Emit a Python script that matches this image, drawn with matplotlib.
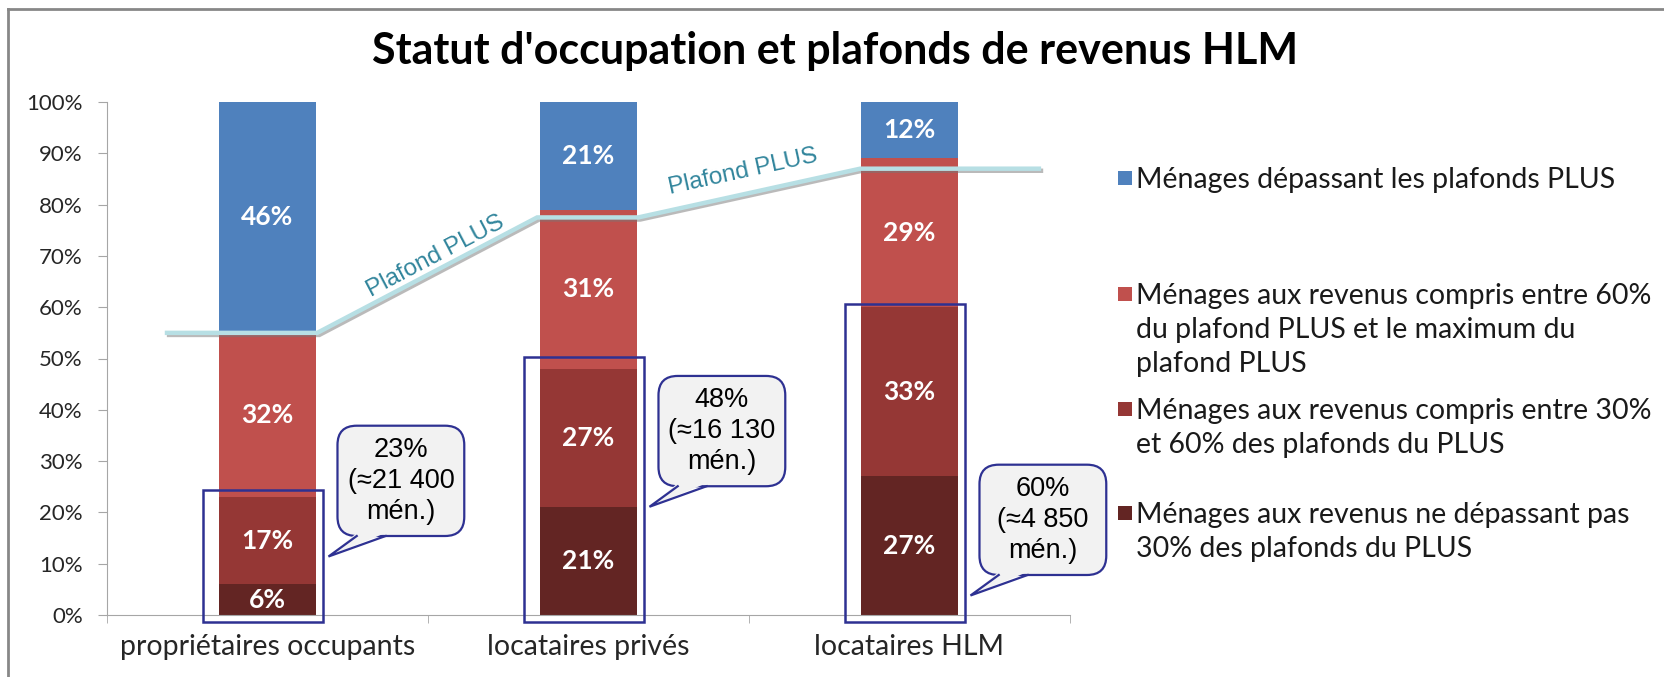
import numpy as np
import matplotlib.pyplot as plt
import matplotlib.patheffects as pe
from matplotlib.patches import Rectangle, FancyBboxPatch, Polygon
from matplotlib.lines import Line2D

plt.rcParams['font.family'] = ['Lato', 'DejaVu Sans']

# Données
categories = ["propriétaires occupants", "locataires privés", "locataires HLM"]
part_moins_30 = [6, 21, 27]      # revenus <= 30% du plafond PLUS
part_30_60 = [17, 27, 33]        # entre 30% et 60%
part_60_max = [32, 31, 29]       # entre 60% et le maximum
part_depasse = [46, 21, 12]      # au-dessus du plafond PLUS

legendes = [
    "Ménages dépassant les plafonds PLUS",
    "Ménages aux revenus compris entre 60%\ndu plafond PLUS et le maximum du\nplafond PLUS",
    "Ménages aux revenus compris entre 30%\net 60% des plafonds du PLUS",
    "Ménages aux revenus ne dépassant pas\n30% des plafonds du PLUS",
]

# ligne "Plafond PLUS"
plafond_x = [-0.32, 0.155, 0.84, 1.155, 1.846, 2.41]
plafond_y = [55, 55, 77.5, 77.5, 87, 87]

# bulles
bulle_textes = ["23%\n(≈21 400\nmén.)", "48%\n(≈16 130\nmén.)", "60%\n(≈4 850\nmén.)"]
bulle_bas = [15.4, 25.1, 7.8]
cadre_haut = [24.4, 50.3, 60.6]

couleurs = ['#632523', '#953735', '#C0504D', '#4F81BD']
bleu_fonce = '#2E3192'

W, H = 1665, 677
fig = plt.figure(figsize=(W / 100, H / 100), dpi=100)
ax = fig.add_axes([107 / W, 62 / H, 963 / W, 513 / H])

x = np.arange(len(categories))
series = [part_moins_30, part_30_60, part_60_max, part_depasse]
bas = np.zeros(len(categories))
for vals, col in zip(series, couleurs):
    vals = np.array(vals, dtype=float)
    ax.bar(x, vals, 0.305, bottom=bas, color=col, zorder=2)
    for xi, b, v in zip(x, bas, vals):
        haut = min(b + v, 100)
        ax.text(xi, (b + haut) / 2, f"{v:.0f}%", ha='center', va='center',
                color='white', fontsize=19, fontweight='bold', zorder=3)
    bas += vals

ax.set_xlim(-0.5, 2.5)
ax.set_ylim(0, 100)

# Ligne plafond
ax.plot(plafond_x, plafond_y, color='#B7DFE4', lw=3.2, zorder=4,
        solid_capstyle='butt', solid_joinstyle='miter', clip_on=False,
        path_effects=[pe.SimpleLineShadow(offset=(1.5, -1.5), shadow_color='#777777', alpha=0.5),
                      pe.Normal()])

def angle(p0, p1):
    a = ax.transData.transform(p0)
    b = ax.transData.transform(p1)
    return np.degrees(np.arctan2(b[1] - a[1], b[0] - a[0]))

ang1 = angle((plafond_x[1], plafond_y[1]), (plafond_x[2], plafond_y[2]))
ang2 = angle((plafond_x[3], plafond_y[3]), (plafond_x[4], plafond_y[4]))
ax.text(0.523, 70, "Plafond PLUS", rotation=ang1, rotation_mode='anchor',
        ha='center', va='center', color='#31859C', fontsize=17.5,
        family=['Liberation Sans'], zorder=4)
ax.text(1.48, 86.3, "Plafond PLUS", rotation=ang2, rotation_mode='anchor',
        ha='center', va='center', color='#31859C', fontsize=17.5,
        family=['Liberation Sans'], zorder=4)

# Cadres autour des ménages éligibles
for xi, h in zip(x, cadre_haut):
    ax.add_patch(Rectangle((xi - 0.2, -1.4), 0.372, h + 1.4, fill=False,
                           ec=bleu_fonce, lw=1.8, zorder=5, clip_on=False))

# Bulles
pos = ax.get_position()
asp = (pos.width * W / 3) / (pos.height * H / 100)
for xi, y0, txt in zip(x, bulle_bas, bulle_textes):
    x0 = xi + 0.218
    larg, haut = 0.395, 21.5
    ax.add_patch(FancyBboxPatch((x0, y0), larg, haut,
                                boxstyle='round,pad=0,rounding_size=0.06',
                                mutation_aspect=asp, fc='#F2F2F2', ec=bleu_fonce,
                                lw=1.6, zorder=6, clip_on=False))
    pointe = (xi + 0.19, y0 - 4)
    b0, b1 = x0 + 0.06, x0 + 0.15
    ax.add_patch(Polygon([(b0, y0 + 0.6), pointe, (b1, y0 + 0.6)], closed=True,
                         fc='#F2F2F2', ec='none', zorder=7, clip_on=False))
    ax.plot([b0, pointe[0], b1], [y0, pointe[1], y0], color=bleu_fonce, lw=1.6,
            zorder=8, clip_on=False, solid_joinstyle='miter')
    ax.text(x0 + larg / 2, y0 + haut / 2, txt, ha='center', va='center',
            fontsize=19.5, family=['Liberation Sans', 'DejaVu Sans'],
            linespacing=1.25, zorder=9)

# Axes
for s in ['top', 'right']:
    ax.spines[s].set_visible(False)
for s in ['left', 'bottom']:
    ax.spines[s].set_color('#A6A6A6')
ax.set_yticks(range(0, 101, 10))
ax.set_yticklabels([f"{v}%" for v in range(0, 101, 10)])
ax.tick_params(axis='y', length=6.5, pad=11, labelsize=16, color='#A6A6A6',
               labelcolor='#262626')
ax.set_xticks(x)
ax.set_xticklabels(categories)
ax.tick_params(axis='x', length=0, pad=14, labelsize=20.5, labelcolor='#262626')
ax.set_xticks([-0.5, 0.5, 1.5, 2.5], minor=True)
ax.tick_params(axis='x', which='minor', length=6, color='#A6A6A6')

# Titre
fig.text(835 / W, 1 - 51 / H, "Statut d'occupation et plafonds de revenus HLM",
         ha='center', va='center', fontsize=31, fontweight='bold')

# Légende (centre de la première ligne de chaque entrée)
leg_couleurs = [couleurs[3], couleurs[2], couleurs[1], couleurs[0]]
leg_centres = [179, 295, 410, 514]
for lab, col, c in zip(legendes, leg_couleurs, leg_centres):
    fig.add_artist(Rectangle((1118 / W, 1 - (c + 6) / H), 14 / W, 14 / H,
                             transform=fig.transFigure, fc=col, ec='none'))
    fig.text(1136 / W, 1 - (c - 12) / H, lab, ha='left', va='top', fontsize=20.5,
             linespacing=1.38, color='#1a1a1a')

# Cadre du graphique
fig.add_artist(Line2D([8 / W, 1], [1 - 9 / H, 1 - 9 / H], transform=fig.transFigure,
                      color='#878787', lw=2))
fig.add_artist(Line2D([8 / W, 8 / W], [0, 1 - 9 / H], transform=fig.transFigure,
                      color='#878787', lw=2))

fig.savefig("out.png", dpi=100)
